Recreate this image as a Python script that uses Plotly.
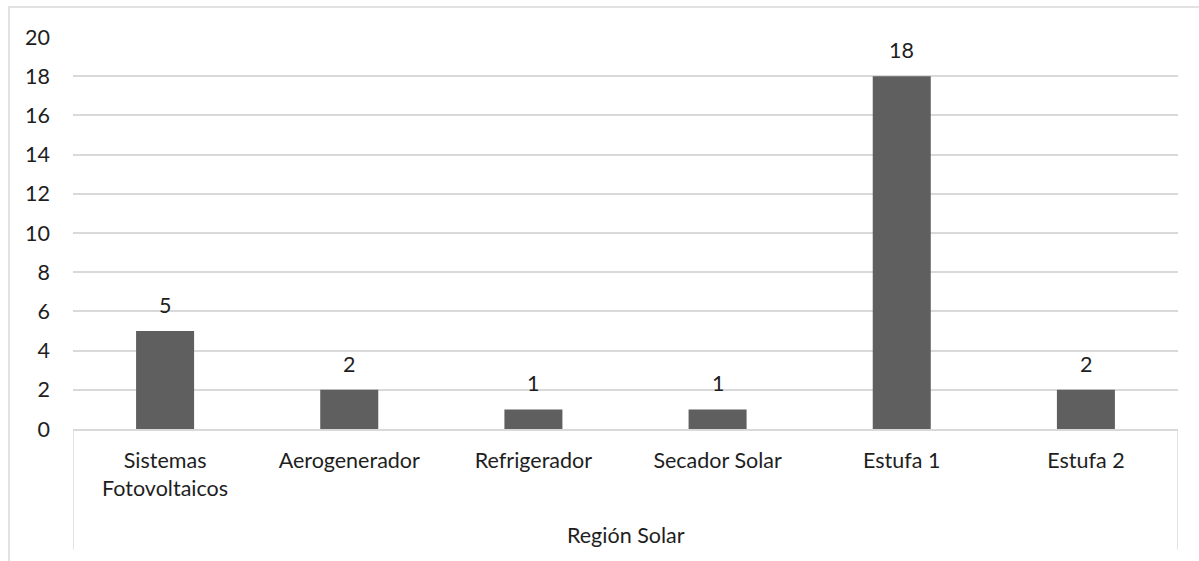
import plotly.graph_objects as go

categories = ["Sistemas<br>Fotovoltaicos", "Aerogenerador", "Refrigerador", "Secador Solar", "Estufa 1", "Estufa 2"]
values = [5, 2, 1, 1, 18, 2]
group_label = "Región Solar"
y_ticks = list(range(0, 21, 2))

FONT = "Lato, Carlito, Calibri, sans-serif"
TXT = "#1e1e1e"
GRID = "#d9d9d9"
FS = 21.5

xs = list(range(len(categories)))

fig = go.Figure(go.Bar(
    x=xs,
    y=values,
    marker=dict(color="#5f5f5f", line=dict(width=0)),
    width=0.315,
    hoverinfo="skip",
))

for xi, v in zip(xs, values):
    fig.add_annotation(x=xi, y=v, xref="x", yref="y", text=str(v), showarrow=False,
                       yanchor="bottom", yshift=11,
                       font=dict(family=FONT, size=FS, color=TXT))

fig.update_layout(
    width=1199, height=561,
    margin=dict(l=73, r=21, t=37, b=132),
    plot_bgcolor="white", paper_bgcolor="white",
    showlegend=False,
    font=dict(family=FONT, size=FS, color=TXT),
    xaxis=dict(
        range=[-0.5, len(categories) - 0.5],
        tickmode="array",
        tickvals=xs,
        ticktext=categories,
        showgrid=False, zeroline=False,
        showline=True, linecolor=GRID, linewidth=1.5,
        ticks="", ticklabelstandoff=11,
        tickfont=dict(family=FONT, size=FS, color=TXT),
    ),
    yaxis=dict(
        range=[0, 20], tickmode="array", tickvals=y_ticks,
        showgrid=True, gridcolor=GRID, gridwidth=1.5,
        zeroline=False, showline=False, ticks="",
        ticklabelstandoff=22,
        tickfont=dict(family=FONT, size=FS, color=TXT),
    ),
)

# group separators
for xv in [-0.5, len(categories) - 0.5]:
    fig.add_shape(type="line", xref="x", yref="paper", x0=xv, x1=xv, y0=0, y1=-0.308,
                  line=dict(color=GRID, width=1.5))

fig.add_annotation(text=group_label, xref="paper", yref="paper", x=0.5, y=-0.27,
                   showarrow=False, font=dict(family=FONT, size=FS, color=TXT), yanchor="middle")

# outer chart border
fig.add_shape(type="rect", xref="paper", yref="paper", x0=-0.0579, x1=1.03, y0=-0.5, y1=1.0765,
              line=dict(color=GRID, width=1.5), layer="below")

fig.write_html("out.html", config={"displayModeBar": False},
               post_script="document.body.style.margin='0';document.body.style.padding='0';")
